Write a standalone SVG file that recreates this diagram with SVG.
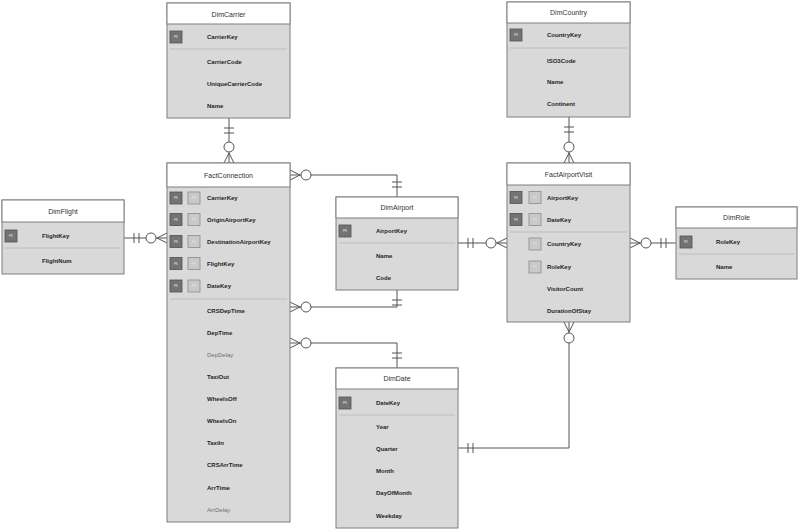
<svg xmlns="http://www.w3.org/2000/svg" width="800" height="530" viewBox="0 0 800 530">
<style>
.body{fill:#d9d9d9;stroke:#7f7f7f;stroke-width:1}
.hdr{fill:#ffffff;stroke:#7f7f7f;stroke-width:1}
.title{font-family:"Liberation Sans",Arial,sans-serif;font-size:7px;fill:#333;text-anchor:middle;dominant-baseline:central}
.f{font-family:"Liberation Sans",Arial,sans-serif;font-size:6px;font-weight:bold;fill:#1f1f1f;dominant-baseline:central}
.fl{font-family:"Liberation Sans",Arial,sans-serif;font-size:6px;fill:#707070;dominant-baseline:central}
.sep{stroke:#bdbdbd;stroke-width:1}
.pk{fill:#737373;stroke:#505050;stroke-width:0.8}
.fk{fill:#c9c9c9;stroke:#8c8c8c;stroke-width:0.8}
.bt{font-family:"Liberation Sans",Arial,sans-serif;font-size:3px;fill:#e8e8e8;text-anchor:middle;dominant-baseline:central}
.ln{stroke:#555;stroke-width:1;fill:none}
.ci{stroke:#555;stroke-width:1;fill:#fff}
</style>

<g id="connectors">
  <!-- DimCarrier - FactConnection -->
  <path class="ln" d="M229,118 V163 M224,128 H234 M224,133 H234 M224,163 L229,153 L234,163"/>
  <circle class="ci" cx="229" cy="147" r="5"/>
  <!-- DimCountry - FactAirportVisit -->
  <path class="ln" d="M569,117 V163 M564,127 H574 M564,132 H574 M564,163 L569,153 L574,163"/>
  <circle class="ci" cx="569" cy="147" r="5"/>
  <!-- DimFlight - FactConnection -->
  <path class="ln" d="M124,238 H167 M134,233 V243 M139,233 V243 M167,233 L157,238 L167,243"/>
  <circle class="ci" cx="151" cy="238" r="5"/>
  <!-- FactConnection - DimAirport (origin) -->
  <path class="ln" d="M290,175 H397 V197 M392,182 H402 M392,187 H402 M290,170 L300,175 L290,180"/>
  <circle class="ci" cx="306" cy="175" r="5"/>
  <!-- FactConnection - DimAirport (destination) -->
  <path class="ln" d="M290,307 H397 V290 M392,300 H402 M392,305 H402 M290,302 L300,307 L290,312"/>
  <circle class="ci" cx="306" cy="307" r="5"/>
  <!-- FactConnection - DimDate -->
  <path class="ln" d="M290,343 H397 V368 M392,353 H402 M392,358 H402 M290,338 L300,343 L290,348"/>
  <circle class="ci" cx="306" cy="343" r="5"/>
  <!-- DimAirport - FactAirportVisit -->
  <path class="ln" d="M458,243 H507 M468,238 V248 M473,238 V248 M507,238 L497,243 L507,248"/>
  <circle class="ci" cx="491" cy="243" r="5"/>
  <!-- FactAirportVisit - DimRole -->
  <path class="ln" d="M630,243 H676 M661,238 V248 M666,238 V248 M630,238 L640,243 L630,248"/>
  <circle class="ci" cx="646" cy="243" r="5"/>
  <!-- FactAirportVisit - DimDate -->
  <path class="ln" d="M569,322 V448 H458 M468,443 V453 M473,443 V453 M564,322 L569,332 L574,322"/>
  <circle class="ci" cx="569" cy="338" r="5"/>
</g>

<g id="DimCarrier">
  <rect class="body" x="167" y="3" width="123" height="115"/>
  <rect class="hdr" x="167" y="3" width="123" height="21"/>
  <text class="title" x="228.5" y="14">DimCarrier</text>
  <rect class="pk" x="170" y="31" width="12" height="12"/><text class="bt" x="176" y="37">PK</text>
  <text class="f" x="207" y="37">CarrierKey</text>
  <line class="sep" x1="170" y1="49" x2="287" y2="49"/>
  <text class="f" x="207" y="62">CarrierCode</text>
  <text class="f" x="207" y="84">UniqueCarrierCode</text>
  <text class="f" x="207" y="106">Name</text>
</g>

<g id="DimCountry">
  <rect class="body" x="507" y="2" width="123" height="115"/>
  <rect class="hdr" x="507" y="2" width="123" height="21"/>
  <text class="title" x="568.5" y="12.5">DimCountry</text>
  <rect class="pk" x="510" y="29" width="12" height="12"/><text class="bt" x="516" y="35">PK</text>
  <text class="f" x="547" y="35">CountryKey</text>
  <line class="sep" x1="510" y1="48" x2="627" y2="48"/>
  <text class="f" x="547" y="61">ISO3Code</text>
  <text class="f" x="547" y="82">Name</text>
  <text class="f" x="547" y="104">Continent</text>
</g>

<g id="FactConnection">
  <rect class="body" x="167" y="163" width="123" height="359"/>
  <rect class="hdr" x="167" y="163" width="123" height="24"/>
  <text class="title" x="228.5" y="175">FactConnection</text>
  <rect class="pk" x="170" y="192" width="12" height="12"/><text class="bt" x="176" y="198">PK</text>
  <rect class="fk" x="188" y="192" width="12" height="12"/><text class="bt" x="194" y="198">FK</text>
  <text class="f" x="207" y="198">CarrierKey</text>
  <rect class="pk" x="170" y="213.5" width="12" height="12"/><text class="bt" x="176" y="219.5">PK</text>
  <rect class="fk" x="188" y="213.5" width="12" height="12"/><text class="bt" x="194" y="219.5">FK</text>
  <text class="f" x="207" y="219.5">OriginAirportKey</text>
  <rect class="pk" x="170" y="235.5" width="12" height="12"/><text class="bt" x="176" y="241.5">PK</text>
  <rect class="fk" x="188" y="235.5" width="12" height="12"/><text class="bt" x="194" y="241.5">FK</text>
  <text class="f" x="207" y="241.5">DestinationAirportKey</text>
  <rect class="pk" x="170" y="257.5" width="12" height="12"/><text class="bt" x="176" y="263.5">PK</text>
  <rect class="fk" x="188" y="257.5" width="12" height="12"/><text class="bt" x="194" y="263.5">FK</text>
  <text class="f" x="207" y="263.5">FlightKey</text>
  <rect class="pk" x="170" y="280" width="12" height="12"/><text class="bt" x="176" y="286">PK</text>
  <rect class="fk" x="188" y="280" width="12" height="12"/><text class="bt" x="194" y="286">FK</text>
  <text class="f" x="207" y="286">DateKey</text>
  <line class="sep" x1="170" y1="299" x2="287" y2="299"/>
  <text class="f" x="207" y="311">CRSDepTime</text>
  <text class="f" x="207" y="333">DepTime</text>
  <text class="fl" x="207" y="355">DepDelay</text>
  <text class="f" x="207" y="377">TaxiOut</text>
  <text class="f" x="207" y="399">WheelsOff</text>
  <text class="f" x="207" y="421">WheelsOn</text>
  <text class="f" x="207" y="443">TaxiIn</text>
  <text class="f" x="207" y="465">CRSArrTime</text>
  <text class="f" x="207" y="488">ArrTime</text>
  <text class="fl" x="207" y="510">ArrDelay</text>
</g>

<g id="DimFlight">
  <rect class="body" x="2" y="200" width="122" height="74"/>
  <rect class="hdr" x="2" y="200" width="122" height="22"/>
  <text class="title" x="63" y="211">DimFlight</text>
  <rect class="pk" x="5" y="230" width="12" height="12"/><text class="bt" x="11" y="236">PK</text>
  <text class="f" x="42" y="236">FlightKey</text>
  <line class="sep" x1="5" y1="248" x2="121" y2="248"/>
  <text class="f" x="42" y="261">FlightNum</text>
</g>

<g id="DimAirport">
  <rect class="body" x="336" y="197" width="122" height="93"/>
  <rect class="hdr" x="336" y="197" width="122" height="21"/>
  <text class="title" x="397" y="207.5">DimAirport</text>
  <rect class="pk" x="339" y="225" width="12" height="12"/><text class="bt" x="345" y="231">PK</text>
  <text class="f" x="376" y="231">AirportKey</text>
  <line class="sep" x1="339" y1="243" x2="455" y2="243"/>
  <text class="f" x="376" y="256">Name</text>
  <text class="f" x="376" y="278">Code</text>
</g>

<g id="FactAirportVisit">
  <rect class="body" x="507" y="163" width="123" height="159"/>
  <rect class="hdr" x="507" y="163" width="123" height="22"/>
  <text class="title" x="568.5" y="174">FactAirportVisit</text>
  <rect class="pk" x="510" y="191.5" width="12" height="12"/><text class="bt" x="516" y="197.5">PK</text>
  <rect class="fk" x="529" y="191.5" width="12" height="12"/><text class="bt" x="535" y="197.5">FK</text>
  <text class="f" x="547" y="197.5">AirportKey</text>
  <rect class="pk" x="510" y="213.5" width="12" height="12"/><text class="bt" x="516" y="219.5">PK</text>
  <rect class="fk" x="529" y="213.5" width="12" height="12"/><text class="bt" x="535" y="219.5">FK</text>
  <text class="f" x="547" y="219.5">DateKey</text>
  <line class="sep" x1="510" y1="232" x2="627" y2="232"/>
  <rect class="fk" x="529" y="238" width="12" height="12"/><text class="bt" x="535" y="244">FK</text>
  <text class="f" x="547" y="244">CountryKey</text>
  <rect class="fk" x="529" y="261" width="12" height="12"/><text class="bt" x="535" y="267">FK</text>
  <text class="f" x="547" y="267">RoleKey</text>
  <text class="f" x="547" y="289">VisitorCount</text>
  <text class="f" x="547" y="311">DurationOfStay</text>
</g>

<g id="DimRole">
  <rect class="body" x="676" y="207" width="121" height="72"/>
  <rect class="hdr" x="676" y="207" width="121" height="21"/>
  <text class="title" x="736.5" y="217.5">DimRole</text>
  <rect class="pk" x="680" y="236" width="12" height="12"/><text class="bt" x="686" y="242">PK</text>
  <text class="f" x="716" y="242">RoleKey</text>
  <line class="sep" x1="679" y1="254" x2="794" y2="254"/>
  <text class="f" x="716" y="267">Name</text>
</g>

<g id="DimDate">
  <rect class="body" x="336" y="368" width="122" height="160"/>
  <rect class="hdr" x="336" y="368" width="122" height="21"/>
  <text class="title" x="397" y="378.5">DimDate</text>
  <rect class="pk" x="339" y="397" width="12" height="12"/><text class="bt" x="345" y="403">PK</text>
  <text class="f" x="376" y="403">DateKey</text>
  <line class="sep" x1="339" y1="415" x2="455" y2="415"/>
  <text class="f" x="376" y="427">Year</text>
  <text class="f" x="376" y="449">Quarter</text>
  <text class="f" x="376" y="471">Month</text>
  <text class="f" x="376" y="493">DayOfMonth</text>
  <text class="f" x="376" y="516">Weekday</text>
</g>
</svg>
